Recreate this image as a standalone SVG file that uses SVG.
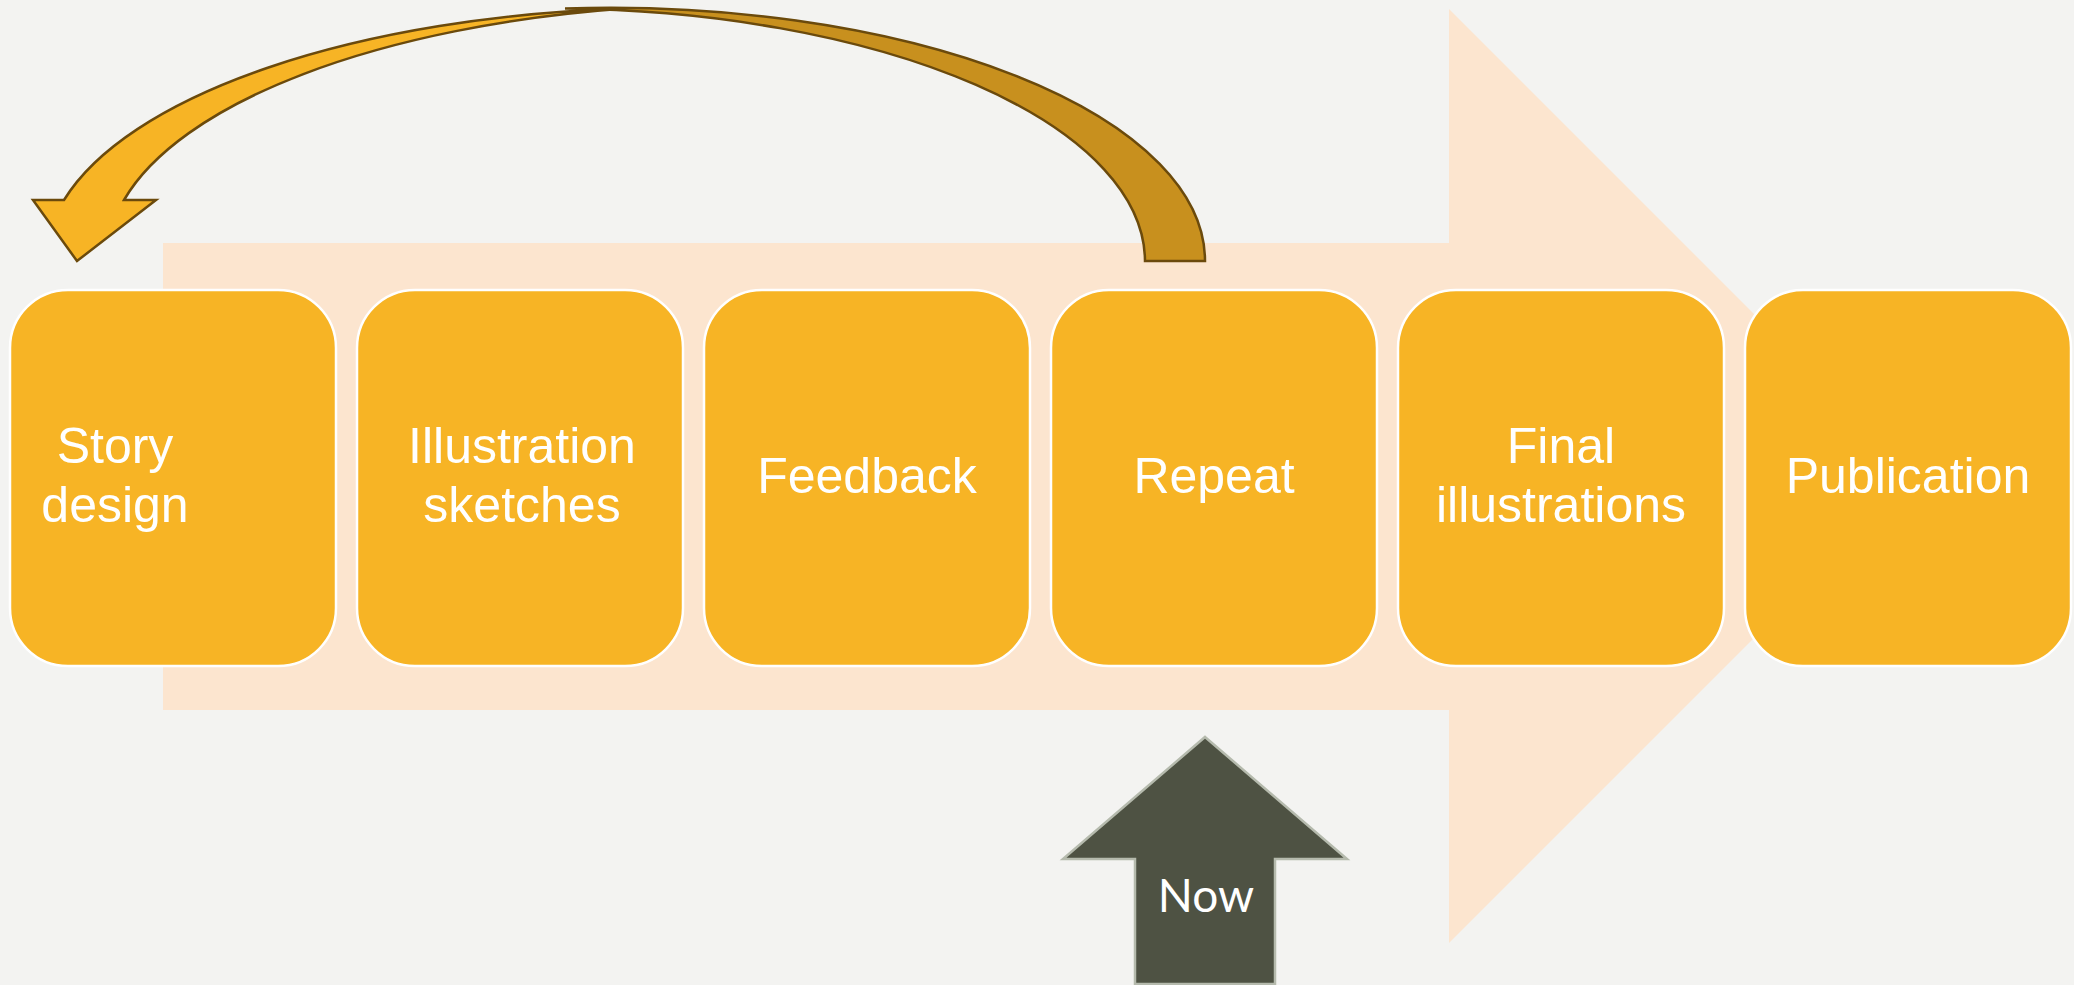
<svg xmlns="http://www.w3.org/2000/svg" width="2074" height="985" viewBox="0 0 2074 985">
<style>
.bg{fill:#F3F3F1}
.band{fill:#FCE5CF}
.box{fill:#F7B425;stroke:#FFFFFF;stroke-width:2.5}
.lbl{font-family:"Liberation Sans",Arial,sans-serif;font-size:50px;fill:#FFFFFF;text-anchor:middle}
.front{fill:#F7B425;stroke:#6B4A0C;stroke-width:2.5;stroke-linejoin:miter}
.back{fill:#C8901E;stroke:#6B4A0C;stroke-width:2.5;stroke-linejoin:miter}
.now{fill:#4E5243;stroke:#B5BAAD;stroke-width:2.5}
.nowlbl{font-family:Lato,"Open Sans",sans-serif;font-size:46px;fill:#FFFFFF;text-anchor:middle}
</style>
<rect class="bg" x="0" y="0" width="2074" height="985"/>
<g id="timeline-arrow">
<polygon class="band" points="163,243 1449,243 1449,9 1916,476 1449,943 1449,710 163,710"/>
</g>
<g id="connectors">
<path id="loop-back" class="back" d="M 565,8.6 A 595 253 0 0 1 1205,261 L 1145,261 A 595 253 0 0 0 565,8.6 Z"/>
<path id="loop-front" class="front" d="M 77,261 L 33,200 L 64,200 A 628 253 0 0 1 625,8.6 A 628 253 0 0 0 124,200 L 156,200 Z"/>
</g>
<g id="node-story">
<rect class="box" x="10" y="290" width="326" height="376" rx="58" ry="58"/>
<text class="lbl" x="115" y="463">Story</text>
<text class="lbl" x="115" y="522">design</text>
</g>
<g id="node-sketches">
<rect class="box" x="357" y="290" width="326" height="376" rx="58" ry="58"/>
<text class="lbl" x="522" y="463">Illustration</text>
<text class="lbl" x="522" y="522">sketches</text>
</g>
<g id="node-feedback">
<rect class="box" x="704" y="290" width="326" height="376" rx="58" ry="58"/>
<text class="lbl" x="867" y="493">Feedback</text>
</g>
<g id="node-repeat">
<rect class="box" x="1051" y="290" width="326" height="376" rx="58" ry="58"/>
<text class="lbl" x="1214" y="493">Repeat</text>
</g>
<g id="node-final">
<rect class="box" x="1398" y="290" width="326" height="376" rx="58" ry="58"/>
<text class="lbl" x="1561" y="463">Final</text>
<text class="lbl" x="1561" y="522">illustrations</text>
</g>
<g id="node-publication">
<rect class="box" x="1745" y="290" width="326" height="376" rx="58" ry="58"/>
<text class="lbl" x="1908" y="493">Publication</text>
</g>
<g id="node-now">
<polygon class="now" points="1205,737 1347,859 1275,859 1275,984 1135,984 1135,859 1063,859"/>
<text class="nowlbl" x="1206" y="912">Now</text>
</g>
</svg>
